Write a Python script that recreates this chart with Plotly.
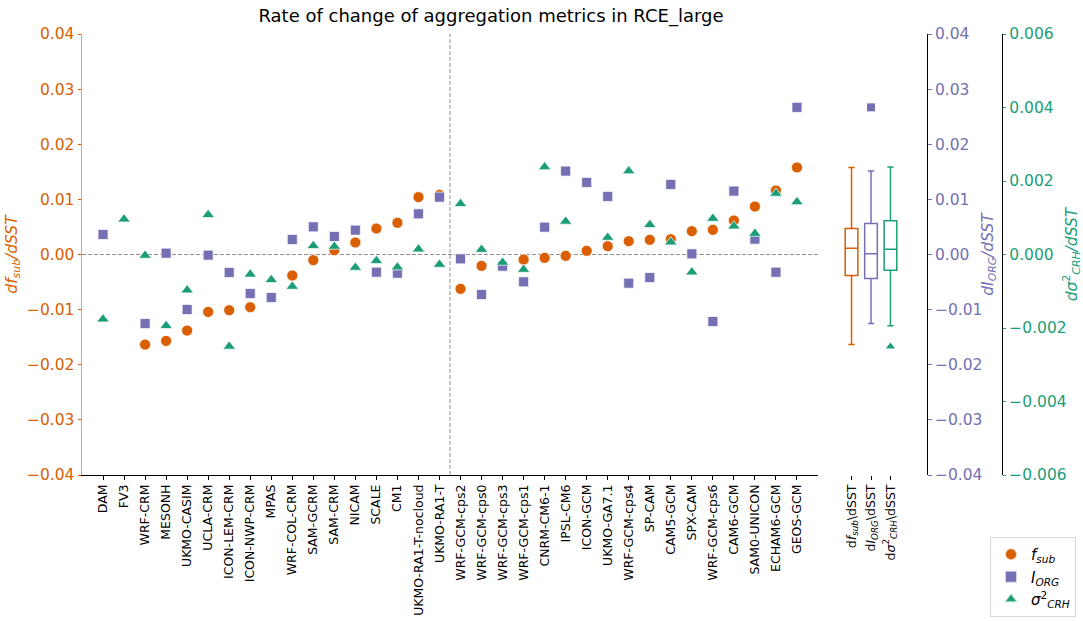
import plotly.graph_objects as go

models = ["DAM", "FV3", "WRF-CRM", "MESONH", "UKMO-CASIM", "UCLA-CRM", "ICON-LEM-CRM",
          "ICON-NWP-CRM", "MPAS", "WRF-COL-CRM", "SAM-GCRM", "SAM-CRM", "NICAM", "SCALE",
          "CM1", "UKMO-RA1-T-nocloud", "UKMO-RA1-T",
          "WRF-GCM-cps2", "WRF-GCM-cps0", "WRF-GCM-cps3", "WRF-GCM-cps1", "CNRM-CM6-1",
          "IPSL-CM6", "ICON-GCM", "UKMO-GA7.1", "WRF-GCM-cps4", "SP-CAM", "CAM5-GCM",
          "SPX-CAM", "WRF-GCM-cps6", "CAM6-GCM", "SAM0-UNICON", "ECHAM6-GCM", "GEOS-GCM"]

fsub = [None, None, -0.01634, -0.01567, -0.0138, -0.01041, -0.0101, -0.00956, None, -0.00381,
        -0.00103, 0.00079, 0.00218, 0.00472, 0.00575, 0.01041, 0.01083,
        -0.00623, -0.00206, None, -0.00091, -0.00061, -0.00024, 0.00067, 0.00151, 0.00242,
        0.00266, 0.00278, 0.00424, 0.00448, 0.00617, 0.00871, 0.01162, 0.01579]

iorg = [0.00363, None, -0.01253, 0.00024, -0.00998, -0.00012, -0.00327, -0.00708, -0.0078,
        0.00272, 0.00502, 0.00327, 0.00442, -0.00321, -0.00339, 0.00738, 0.01041,
        -0.00079, -0.00726, -0.00212, -0.00496, 0.00496, 0.01513, 0.01307, 0.01053, -0.0052,
        -0.00418, 0.01271, 0.00012, -0.01216, 0.0115, 0.00278, -0.00321, 0.02669]

crh = [-0.00176, 0.00096, -0.000027, -0.00194, -0.00097, 0.00108, -0.0025, -0.00054, -0.00069,
       -0.00087, 0.000236, 0.000218, -0.000354, -0.000172, -0.000345, 0.000145, -0.000272,
       0.00138, 0.000136, -0.000218, -0.00041, 0.00238, 0.0009, None, 0.000463, 0.00227,
       0.00081, 0.000336, -0.00048, 0.00098, 0.00077, 0.00057, 0.00166, 0.00143]

box_labels = ["d<i>f</i><sub><i>sub</i></sub>\\dSST",
              "d<i>I</i><sub><i>ORG</i></sub>\\dSST",
              "d<i>σ</i><sup>2</sup><sub><i>CRH</i></sub>\\dSST"]

ORANGE = "#d95f02"
PURPLE = "#7570b3"
GREEN = "#1b9e77"
FONT = "DejaVu Sans"

W, H = 1083, 621
L, R, T, B = 82, 0, 34, 146
PW = W - L - R


def px2paper(px):
    return (px - L) / PW


xidx = list(range(len(models)))

fig = go.Figure()
edge = dict(color="rgba(255,255,255,0.7)", width=1)
fig.add_trace(go.Scatter(x=xidx, y=fsub, mode="markers", name="<i>f</i><sub><i>sub</i></sub>",
                         marker=dict(symbol="circle", size=11, color=ORANGE, line=edge),
                         xaxis="x", yaxis="y"))
fig.add_trace(go.Scatter(x=xidx, y=iorg, mode="markers", name="<i>I</i><sub><i>ORG</i></sub>",
                         marker=dict(symbol="square", size=10, color=PURPLE, line=edge),
                         xaxis="x", yaxis="y2"))
fig.add_trace(go.Scatter(x=xidx, y=crh, mode="markers",
                         name="<i>σ</i><sup>2</sup><sub><i>CRH</i></sub>",
                         marker=dict(symbol="triangle-up", size=11, color=GREEN, line=edge),
                         xaxis="x", yaxis="y3"))

box_common = dict(width=0.65, whiskerwidth=0.5, boxpoints="outliers",
                  fillcolor="rgba(0,0,0,0)", showlegend=False, xaxis="x2")
fig.add_trace(go.Box(y=[v for v in fsub if v is not None], x0=0, yaxis="y",
                     line=dict(color=ORANGE, width=1.5),
                     marker=dict(symbol="circle", size=8, color=ORANGE), **box_common))
fig.add_trace(go.Box(y=[v for v in iorg if v is not None], x0=1, yaxis="y2",
                     line=dict(color=PURPLE, width=1.5),
                     marker=dict(symbol="square", size=8, color=PURPLE), **box_common))
fig.add_trace(go.Box(y=[v for v in crh if v is not None], x0=2, yaxis="y3",
                     line=dict(color=GREEN, width=1.5),
                     marker=dict(symbol="triangle-up", size=8, color=GREEN), **box_common))

tickfont_x = dict(family=FONT, size=12.5, color="black")

fig.update_layout(
    width=W, height=H,
    margin=dict(l=L, r=R, t=T, b=B, autoexpand=False),
    paper_bgcolor="white", plot_bgcolor="white",
    font=dict(family=FONT, color="black"),
    title=dict(text="Rate of change of aggregation metrics in RCE_large",
               x=491 / W, xref="container", xanchor="center",
               y=1 - 16 / H, yref="container", yanchor="middle",
               font=dict(family=FONT, size=18, color="black")),
    showlegend=True,
    legend=dict(x=px2paper(990), y=-(537 - 475) / (H - T - B), xanchor="left", yanchor="top",
                bordercolor="#d9d9d9", borderwidth=1, bgcolor="white",
                font=dict(family=FONT, size=15, color="black"),
                itemsizing="constant", tracegroupgap=0),
    xaxis=dict(domain=[0, px2paper(818)], range=[-1, 34], anchor="y",
               tickmode="array", tickvals=xidx, ticktext=models, tickangle=-90,
               tickfont=tickfont_x, ticks="outside", ticklen=3.5, tickcolor="black",
               showline=True, linecolor="black", linewidth=1, mirror=False,
               showgrid=False, zeroline=False),
    xaxis2=dict(domain=[px2paper(834), px2paper(908)], range=[-0.9, 2.9], anchor="y",
                tickmode="array", tickvals=[0, 1, 2], ticktext=box_labels, tickangle=-90,
                tickfont=tickfont_x, ticks="outside", ticklen=3.5, tickcolor="black",
                showline=False, showgrid=False, zeroline=False),
    yaxis=dict(domain=[0, 1], range=[-0.04, 0.04], dtick=0.01, tickformat=".2f",
               anchor="x", side="left",
               tickfont=dict(family=FONT, size=15.5, color=ORANGE),
               ticks="outside", ticklen=3.5, tickcolor=ORANGE,
               showline=True, linecolor="#b0b0b0", linewidth=1,
               showgrid=False, zeroline=False,
               title=dict(text="<i>df</i><sub><i>sub</i></sub><i>/dSST</i>", standoff=5,
                          font=dict(family=FONT, size=15.5, color=ORANGE))),
    yaxis2=dict(range=[-0.04, 0.04], dtick=0.01, tickformat=".2f",
                overlaying="y", anchor="free", position=px2paper(927.3), side="right",
                tickfont=dict(family=FONT, size=15.5, color=PURPLE),
                ticks="outside", ticklen=3.5, tickcolor=PURPLE,
                showline=True, linecolor="black", linewidth=1,
                showgrid=False, zeroline=False,
                title=dict(text="<i>dI</i><sub><i>ORG</i></sub><i>/dSST</i>", standoff=0,
                           font=dict(family=FONT, size=15.5, color=PURPLE))),
    yaxis3=dict(range=[-0.006, 0.006], dtick=0.002, tickformat=".3f",
                overlaying="y", anchor="free", position=px2paper(1001.7), side="right",
                tickfont=dict(family=FONT, size=15.5, color=GREEN),
                ticks="outside", ticklen=3.5, tickcolor=GREEN,
                showline=True, linecolor="black", linewidth=1,
                showgrid=False, zeroline=False,
                title=dict(text="<i>dσ</i><sup>2</sup><sub><i>CRH</i></sub><i>/dSST</i>", standoff=0,
                           font=dict(family=FONT, size=15.5, color=GREEN))),
    shapes=[
        dict(type="line", xref="x", yref="y", x0=-1, x1=34, y0=0, y1=0,
             line=dict(color="#909090", width=1, dash="4px,2px"), layer="below"),
        dict(type="line", xref="x", yref="y domain", x0=16.5, x1=16.5, y0=0, y1=1,
             line=dict(color="#909090", width=1, dash="4px,2px"), layer="below"),
    ],
)

fig.write_html("out.html", config={"displayModeBar": False},
               post_script="document.body.style.margin='0px';")
